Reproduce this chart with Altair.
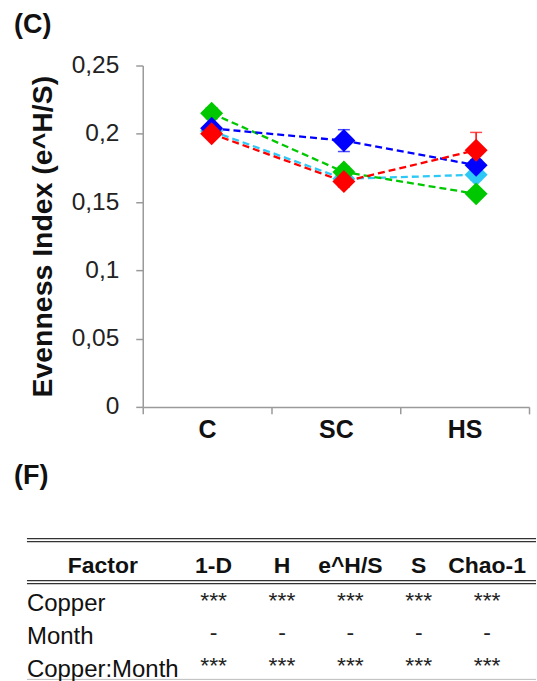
import altair as alt
import pandas as pd

# ---------------- data ----------------
categories = ["C", "SC", "HS"]

series_names = ["Series cyan", "Series green", "Series blue", "Series red"]
series_colors = ["#2ec8f6", "#00c800", "#0000ff", "#ff0000"]

values_cyan = [0.202, 0.167, 0.170]
values_green = [0.215, 0.172, 0.156]
values_blue = [0.204, 0.195, 0.177]
values_red = [0.200, 0.165, 0.188]

err_cyan = [0.003, 0.003, 0.004]
err_green = [0.004, 0.004, 0.003]
err_blue = [0.003, 0.008, 0.004]
err_red = [0.003, 0.004, 0.013]

y_ticks = [0, 0.05, 0.1, 0.15, 0.2, 0.25]

table_columns = ["1-D", "H", "e^H/S", "S", "Chao-1"]
table_factors = ["Copper", "Month", "Copper:Month"]
table_marks = [
    ["***", "***", "***", "***", "***"],
    ["-", "-", "-", "-", "-"],
    ["***", "***", "***", "***", "***"],
]

# ---------------- frames ----------------
rows = []
for name, vals, errs in zip(
    series_names,
    [values_cyan, values_green, values_blue, values_red],
    [err_cyan, err_green, err_blue, err_red],
):
    for i, (c, v, e) in enumerate(zip(categories, vals, errs)):
        rows.append({"cat": c, "ci": i, "series": name, "value": v,
                     "lo": v - e, "hi": v + e})
df = pd.DataFrame(rows)

trows = []
for f, marks in zip(table_factors, table_marks):
    for col, m in zip(table_columns, marks):
        trows.append({"factor": f, "column": col, "mark": m})
tdf = pd.DataFrame(trows)
hdf = pd.DataFrame({"column": table_columns})
fdf = pd.DataFrame({"factor": table_factors})
one = pd.DataFrame({"k": [0]})

FONT = "Liberation Sans"

# ---------------- plot (C) ----------------
yscale = alt.Scale(domain=[0, 0.25], nice=False, zero=True)
yaxis = alt.Axis(
    values=y_ticks, format="~g", labelExpr="replace(datum.label, '.', ',')",
    title="Evenness Index (e^H/S)", titleFont=FONT, titleFontSize=28.5,
    titleFontWeight="bold", titleColor="#111", titlePadding=14,
    labelFont=FONT, labelFontSize=24.5, labelColor="#222", labelPadding=17,
    tickSize=7, tickColor="#9a9a9a", domainColor="#9a9a9a",
    tickWidth=1.5, domainWidth=1.5, grid=False,
)

def ypos(field):
    return alt.Y(field, type="quantitative", scale=yscale, axis=yaxis)

xpoint = alt.X("cat:N", sort=categories,
               scale=alt.Scale(type="point", range=[69, 334], padding=0), axis=None)
color = alt.Color("series:N", scale=alt.Scale(domain=series_names, range=series_colors),
                  legend=None)

axis_layer = alt.Chart(df).mark_point(opacity=0).encode(
    x=alt.X("cat:N", sort=categories,
            scale=alt.Scale(type="band", paddingInner=0, paddingOuter=0),
            axis=alt.Axis(title=None, tickBand="extent", labelAngle=0,
                          labelFont=FONT, labelFontSize=25, labelFontWeight="bold",
                          labelColor="#111", labelPadding=4, tickSize=7,
                          tickColor="#9a9a9a", domainColor="#9a9a9a",
                          tickWidth=1.5, domainWidth=1.5, grid=False)),
    y=ypos("value"),
)

lines = alt.Chart(df).mark_line(strokeDash=[7, 4], strokeWidth=2.3).encode(
    x=xpoint, y=ypos("value"), color=color, order=alt.Order("ci:Q"),
)
err_rules = alt.Chart(df).mark_rule(strokeWidth=1.5).encode(
    x=xpoint, y=ypos("lo"), y2="hi:Q", color=color,
)
caps_hi = alt.Chart(df).mark_tick(size=12, thickness=1.5).encode(
    x=xpoint, y=ypos("hi"), color=color,
)
caps_lo = alt.Chart(df).mark_tick(size=12, thickness=1.5).encode(
    x=xpoint, y=ypos("lo"), color=color,
)
points = alt.Chart(df).mark_point(shape="diamond", filled=True, size=530, opacity=1).encode(
    x=xpoint, y=ypos("value"), color=color,
)

top = alt.layer(axis_layer, lines, err_rules, caps_hi, caps_lo, points).resolve_scale(
    x="independent"
).properties(
    width=387, height=342,
    title=alt.TitleParams("(C)", anchor="start", frame="group", dx=-129,
                          font=FONT, fontSize=27, fontWeight="bold", color="#111",
                          offset=14),
)

# ---------------- table (F) ----------------
L, R = -116, 394
rule_style = dict(color="#333", strokeWidth=1.3)
rules = [
    alt.Chart(one).mark_rule(**rule_style).encode(
        x=alt.value(L), x2=alt.value(R), y=alt.value(yv))
    for yv in [0, 3, 42, 45]
]
bottom_rule = alt.Chart(one).mark_rule(color="#bbb", strokeWidth=1).encode(
    x=alt.value(L), x2=alt.value(R), y=alt.value(141))

colx = alt.X("column:N", sort=table_columns,
             scale=alt.Scale(type="point", range=[71, 345], padding=0), axis=None)
rowy = alt.Y("factor:N", sort=table_factors,
             scale=alt.Scale(type="point", range=[73, 139], padding=0), axis=None)

header = alt.Chart(hdf).mark_text(font=FONT, fontSize=23, fontWeight="bold",
                                  baseline="alphabetic", color="#111").encode(
    x=colx, y=alt.value(34), text="column:N")
factor_head = alt.Chart(one).mark_text(font=FONT, fontSize=23, fontWeight="bold",
                                       baseline="alphabetic", color="#111").encode(
    x=alt.value(-40), y=alt.value(34), text=alt.value("Factor"))
row_labels = alt.Chart(fdf).mark_text(font=FONT, fontSize=24, align="left",
                                      baseline="alphabetic", color="#111").encode(
    x=alt.value(L), y=rowy, text="factor:N")
cells = alt.Chart(tdf).mark_text(font=FONT, fontSize=23, baseline="alphabetic",
                                 color="#222", dy=-4).encode(
    x=colx, y=rowy, text="mark:N")

table = alt.layer(*rules, bottom_rule, header, factor_head, row_labels, cells).properties(
    width=394, height=141,
    title=alt.TitleParams("(F)", anchor="start", frame="group", dx=-129,
                          font=FONT, fontSize=27, fontWeight="bold", color="#111",
                          offset=48),
)

chart = alt.vconcat(top, table, spacing=19).properties(
    padding={"left": 14, "top": 10, "right": 0, "bottom": 0}
).configure_view(stroke=None)

chart.save("out.html", embed_options={"renderer": "svg", "actions": False})
